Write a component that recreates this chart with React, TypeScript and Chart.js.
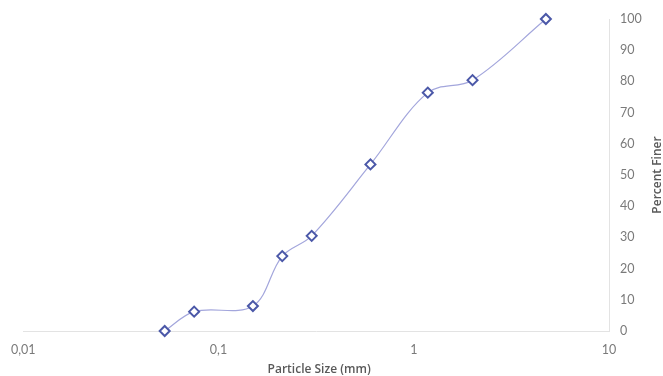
import React, { useEffect, useRef } from "react";
import { Chart, registerables } from "chart.js";

Chart.register(...registerables);

const particleSizes = [0.053, 0.075, 0.15, 0.212, 0.3, 0.6, 1.18, 2, 4.75];
const percentFiner = [0, 6.2, 8.0, 24.0, 30.5, 53.4, 76.4, 80.4, 100];
const xTickValues = [0.01, 0.1, 1, 10];
const xTitle = "Particle Size (mm)";
const yTitle = "Percent Finer";

const FONT = "Lato, 'Liberation Sans', sans-serif";
const TITLE_FONT = "'Open Sans', Lato, sans-serif";

export default function App() {
  const ref = useRef<HTMLCanvasElement | null>(null);

  useEffect(() => {
    if (!ref.current) return;
    const titlePlugin = {
      id: "customTitles",
      afterDraw(chart: any) {
        const ctx = chart.ctx;
        const area = chart.chartArea;
        ctx.save();
        ctx.fillStyle = "#595959";
        ctx.font = `600 12px ${TITLE_FONT}`;
        ctx.textAlign = "center";
        ctx.textBaseline = "middle";
        ctx.fillText(xTitle, (area.left + area.right) / 2 + 3, 370);
        ctx.translate(658, (area.top + area.bottom) / 2);
        ctx.rotate(-Math.PI / 2);
        ctx.fillText(yTitle, 0, 0);
        ctx.restore();
      },
    };
    const chart = new Chart(ref.current, {
      type: "scatter",
      data: {
        datasets: [
          {
            data: particleSizes.map((x, i) => ({ x, y: percentFiner[i] })),
            showLine: true,
            borderColor: "#a3a6dc",
            borderWidth: 1.2,
            tension: 0.35,
            pointStyle: "rectRot",
            pointRadius: 5,
            pointHoverRadius: 5,
            pointBorderWidth: 2,
            pointBorderColor: "#4b58a8",
            pointBackgroundColor: "#ffffff",
            clip: false,
          } as any,
        ],
      },
      options: {
        responsive: false,
        animation: false,
        layout: { padding: { left: 21, top: 19, right: 0, bottom: 0 } },
        plugins: {
          legend: { display: false },
          tooltip: { enabled: false },
        },
        scales: {
          x: {
            type: "logarithmic",
            min: 0.01,
            max: 10,
            afterBuildTicks: (scale: any) => {
              scale.ticks = xTickValues.map((v) => ({ value: v }));
            },
            afterFit: (scale: any) => {
              scale.height = 45;
            },
            grid: { display: false, drawTicks: false },
            border: { display: true, color: "#e3e3e3", width: 1 },
            ticks: {
              autoSkip: false,
              maxRotation: 0,
              padding: 11,
              color: "#7a7a7a",
              font: { family: FONT, size: 12.5 },
              callback: (v: any) => String(v).replace(".", ","),
            },
          },
          y: {
            position: "right",
            min: 0,
            max: 100,
            afterFit: (scale: any) => {
              scale.width = 54;
            },
            grid: { display: false, drawTicks: false },
            border: { display: true, color: "#e3e3e3", width: 1 },
            ticks: {
              stepSize: 10,
              padding: 11,
              color: "#7a7a7a",
              font: { family: FONT, size: 12.5 },
            },
          },
        },
      },
      plugins: [titlePlugin],
    });
    return () => chart.destroy();
  }, []);

  return (
    <div style={{ position: "fixed", left: 0, top: 0, width: 663, height: 376, background: "#fff" }}>
      <canvas ref={ref} width={663} height={376} style={{ display: "block" }} />
    </div>
  );
}
